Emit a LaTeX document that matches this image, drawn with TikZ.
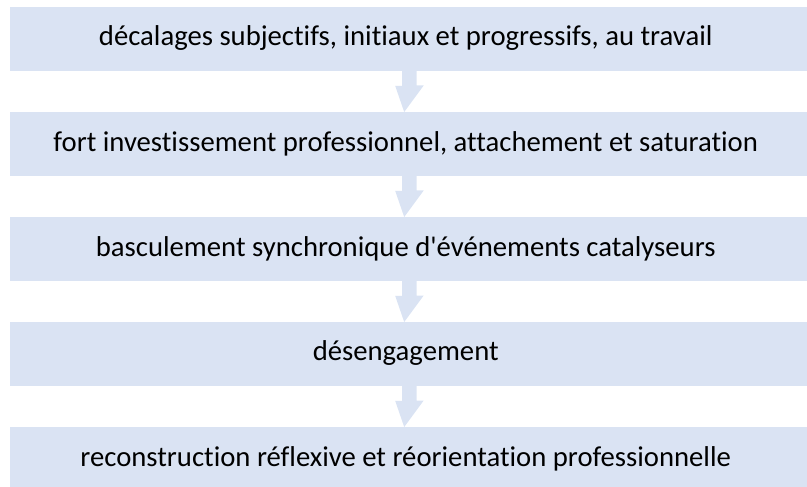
\documentclass[tikz,border=0pt]{standalone}
\usepackage{fontspec}
\setmainfont[RawFeature=-liga]{Carlito}
\definecolor{boxfill}{HTML}{DAE3F3}
\begin{document}
\begin{tikzpicture}[x=1bp,y=-1bp,
  stagebox/.style={fill=boxfill,draw=none,minimum width=797bp,minimum height=63.5bp,inner sep=0pt,anchor=north west},
  stagetext/.style={font=\fontsize{28.8}{32}\selectfont,text=black,inner sep=0pt},
  flowarrow/.style={fill=boxfill,draw=none}]
\useasboundingbox (0,0) rectangle (807,487);
\clip (0,0) rectangle (807,487);
\node[stagebox] (b1) at (10,7) {};
\node[stagebox] (b2) at (10,112) {};
\node[stagebox] (b3) at (10,217) {};
\node[stagebox] (b4) at (10,322) {};
\node[stagebox] (b5) at (10,427) {};
\foreach \b/\t in {b1/{décalages subjectifs, initiaux et progressifs, au travail},
                   b2/{fort investissement professionnel, attachement et saturation},
                   b3/{basculement synchronique d\textquotesingle événements catalyseurs},
                   b4/{désengagement},
                   b5/{reconstruction réflexive et réorientation professionnelle}}
  \node[stagetext] (t\b) at ([xshift=-3bp,yshift=0.5bp]\b.center) {\t};
\foreach \a/\c in {b1/b2,b2/b3,b3/b4,b4/b5}
  \fill[flowarrow] ([xshift=-6.5bp]\a.south) -- ++(0,15) -- ++(-7,0) -- ([xshift=-4.5bp]\c.north) -- ++(19.5,-26.5) -- ++(-7,0) -- ++(0,-15) -- cycle;
\end{tikzpicture}
\end{document}
